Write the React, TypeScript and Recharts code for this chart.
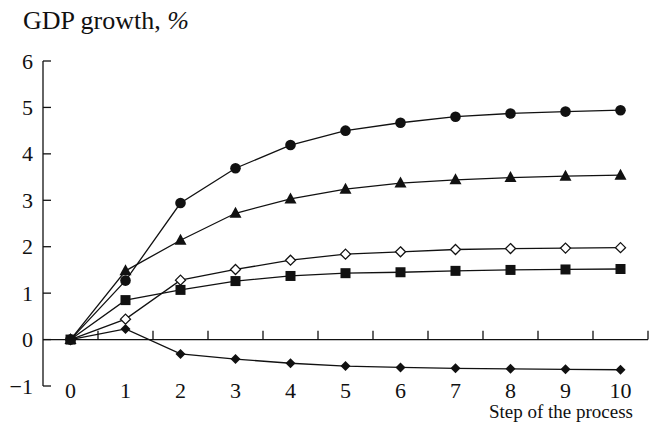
import React from 'react';
import { ComposedChart, Line, XAxis, YAxis, ReferenceLine } from 'recharts';

const steps = [0, 1, 2, 3, 4, 5, 6, 7, 8, 9, 10];
const circleSeries = [0, 1.27, 2.94, 3.69, 4.19, 4.5, 4.67, 4.8, 4.87, 4.91, 4.94];
const triangleSeries = [0, 1.48, 2.14, 2.72, 3.03, 3.24, 3.37, 3.44, 3.49, 3.52, 3.54];
const openDiamondSeries = [0, 0.44, 1.28, 1.51, 1.71, 1.84, 1.89, 1.94, 1.96, 1.97, 1.98];
const squareSeries = [0, 0.85, 1.07, 1.26, 1.37, 1.43, 1.45, 1.48, 1.5, 1.51, 1.52];
const filledDiamondSeries = [0, 0.23, -0.31, -0.42, -0.51, -0.57, -0.6, -0.62, -0.63, -0.64, -0.65];

const yTicks = [-1, 0, 1, 2, 3, 4, 5, 6];
// tick marks on the zero line sit between the steps
const gridTicks = [0.5, 1.5, 2.5, 3.5, 4.5, 5.5, 6.5, 7.5, 8.5, 9.5, 10.5];

const FONT = '"Liberation Serif", "Times New Roman", serif';
const INK = '#111';

const data = steps.map((s, i) => ({
  step: s,
  circle: circleSeries[i],
  triangle: triangleSeries[i],
  openDiamond: openDiamondSeries[i],
  square: squareSeries[i],
  filledDiamond: filledDiamondSeries[i],
}));

type Shape = 'circle' | 'triangle' | 'openDiamond' | 'square' | 'filledDiamond';

const makeDot = (shape: Shape) => (props: any) => {
  const { cx, cy, index } = props;
  const key = `${shape}-${index}`;
  if (cx == null || cy == null) return <g key={key} />;
  switch (shape) {
    case 'circle':
      return <circle key={key} cx={cx} cy={cy} r={5.3} fill={INK} />;
    case 'triangle':
      return (
        <polygon
          key={key}
          points={`${cx},${cy - 6.5} ${cx + 6},${cy + 4.5} ${cx - 6},${cy + 4.5}`}
          fill={INK}
        />
      );
    case 'openDiamond':
      return (
        <polygon
          key={key}
          points={`${cx},${cy - 5} ${cx + 5},${cy} ${cx},${cy + 5} ${cx - 5},${cy}`}
          fill="#fff"
          stroke={INK}
          strokeWidth={1.3}
        />
      );
    case 'square':
      return <rect key={key} x={cx - 5} y={cy - 5} width={10} height={10} fill={INK} />;
    default:
      return (
        <polygon
          key={key}
          points={`${cx},${cy - 5} ${cx + 5},${cy} ${cx},${cy + 5} ${cx - 5},${cy}`}
          fill={INK}
        />
      );
  }
};

const YTick = (props: any) => {
  const { x, y, payload } = props;
  const label = payload.value < 0 ? `\u2212${Math.abs(payload.value)}` : `${payload.value}`;
  return (
    <g>
      <line x1={x} y1={y} x2={x + 8} y2={y} stroke={INK} strokeWidth={1.3} />
      <text x={x - 10} y={y + 7.5} textAnchor="end" fontSize={22} fontFamily={FONT} fill={INK}>
        {label}
      </text>
    </g>
  );
};

const XTick = (props: any) => {
  const { x, y, payload } = props;
  return (
    <text x={x} y={y + 12} textAnchor="middle" fontSize={22} fontFamily={FONT} fill={INK}>
      {payload.value}
    </text>
  );
};

const series: Shape[] = ['filledDiamond', 'openDiamond', 'triangle', 'circle', 'square'];

export default function App() {
  return (
    <div style={{ position: 'absolute', left: 0, top: 0, width: 651, height: 448, background: '#fff' }}>
      <ComposedChart
        width={651}
        height={448}
        data={data}
        margin={{ top: 61, right: 3, bottom: 32, left: 0 }}
      >
        <XAxis
          dataKey="step"
          type="number"
          domain={[-0.5, 10.5]}
          ticks={steps}
          axisLine={false}
          tickLine={false}
          tickSize={0}
          tickMargin={0}
          height={30}
          tick={<XTick />}
          interval={0}
        />
        <YAxis
          type="number"
          domain={[-1, 6]}
          ticks={yTicks}
          width={43}
          tickLine={false}
          tickSize={0}
          tickMargin={0}
          axisLine={{ stroke: INK, strokeWidth: 1.3 }}
          tick={<YTick />}
          interval={0}
        />
        <ReferenceLine y={0} stroke={INK} strokeWidth={1.3} />
        {gridTicks.map((t) => (
          <ReferenceLine
            key={t}
            segment={[{ x: t, y: 0 }, { x: t, y: 0.19 }]}
            stroke={INK}
            strokeWidth={1.3}
            ifOverflow="visible"
          />
        ))}
        {series.map((s) => (
          <Line
            key={s}
            type="linear"
            dataKey={s}
            stroke={INK}
            strokeWidth={1.3}
            dot={makeDot(s)}
            activeDot={false}
            isAnimationActive={false}
          />
        ))}
      </ComposedChart>
      <svg
        width={651}
        height={448}
        style={{ position: 'absolute', left: 0, top: 0, pointerEvents: 'none' }}
      >
        <text x={23} y={29} fontSize={26} fontFamily={FONT} fill={INK}>
          GDP growth, <tspan fontStyle="italic">%</tspan>
        </text>
        <text x={633} y={418} textAnchor="end" fontSize={19} fontFamily={FONT} fill={INK}>
          Step of the process
        </text>
      </svg>
    </div>
  );
}
